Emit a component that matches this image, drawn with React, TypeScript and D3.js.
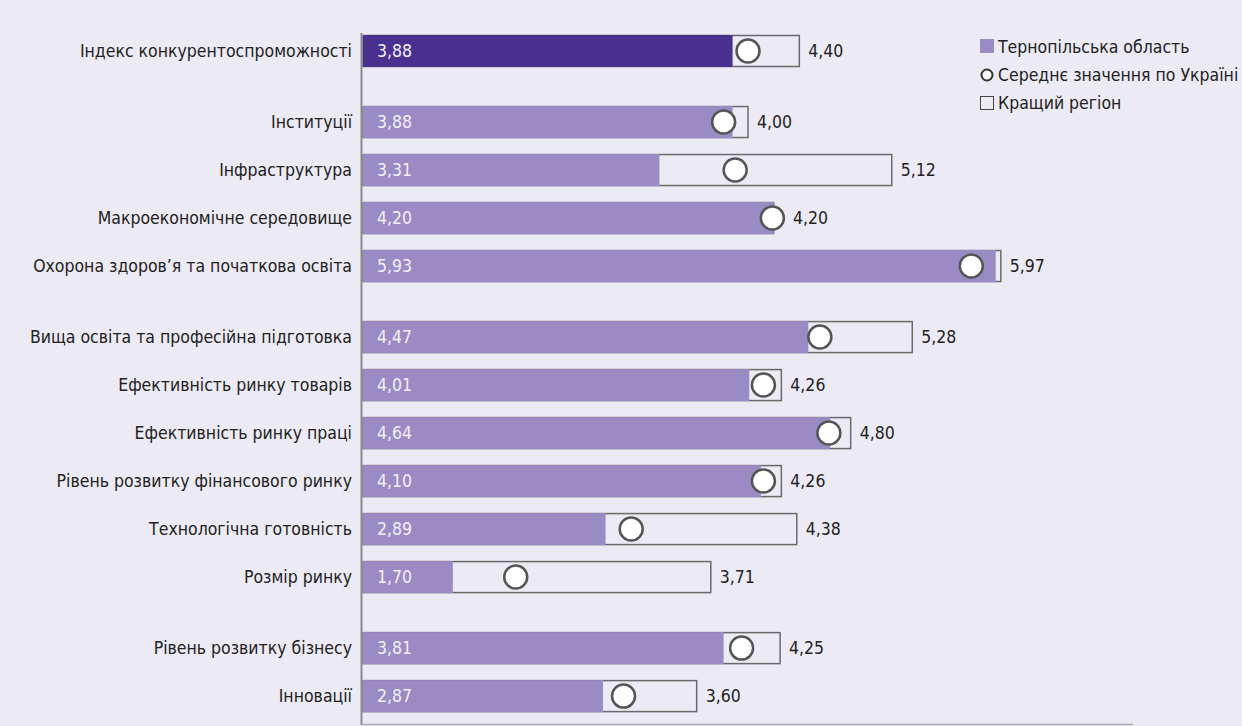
import React from "react";
import * as d3 from "d3";

const categories = [
  "Індекс конкурентоспроможності",
  "Інституції",
  "Інфраструктура",
  "Макроекономічне середовище",
  "Охорона здоров’я та початкова освіта",
  "Вища освіта та професійна підготовка",
  "Ефективність ринку товарів",
  "Ефективність ринку праці",
  "Рівень розвитку фінансового ринку",
  "Технологічна готовність",
  "Розмір ринку",
  "Рівень розвитку бізнесу",
  "Інновації",
];
const groups = [0, 1, 1, 1, 1, 2, 2, 2, 2, 2, 2, 3, 3];
const regionValues = [3.88, 3.88, 3.31, 4.2, 5.93, 4.47, 4.01, 4.64, 4.1, 2.89, 1.7, 3.81, 2.87];
const ukraineMean = [4.0, 3.81, 3.9, 4.19, 5.74, 4.56, 4.12, 4.63, 4.12, 3.09, 2.19, 3.95, 3.03];
const bestRegion = [4.4, 4.0, 5.12, 4.2, 5.97, 5.28, 4.26, 4.8, 4.26, 4.38, 3.71, 4.25, 3.6];
const legendLabels = ["Тернопільська область", "Середнє значення по Україні", "Кращий регіон"];

const W = 1242;
const H = 726;
const FONT = "'Liberation Sans Narrow', 'DejaVu Sans Condensed', 'Roboto', sans-serif";
const fmt = (v: number) => v.toFixed(2).replace(".", ",");

export default function App() {
  const x = d3.scaleLinear().domain([1, 7]).range([363, 1133]);
  const slot = categories.map((_, i) => i + 0.48 * groups[i]);
  const y = d3.scaleLinear().domain([0, 1]).range([51, 99]);
  const barH = 32;
  const r = 11.5;
  const axisX = 361.5;
  const fs = 17.5;

  return (
    <svg
      width={W}
      height={H}
      style={{ position: "absolute", left: 0, top: 0, background: "#ECEAF4" }}
      fontFamily={FONT}
    >
      <rect x={0} y={0} width={W} height={H} fill="#ECEAF4" />
      {categories.map((c, i) => {
        const cy = y(slot[i]);
        const top = cy - barH / 2;
        const xb = x(bestRegion[i]);
        const xm = x(ukraineMean[i]);
        const labelX = Math.max(xb, xm + r) + 9;
        return (
          <g key={c}>
            <text x={352} y={cy} dy="0.35em" textAnchor="end" fontSize={fs} fill="#222">
              {c}
            </text>
            <rect
              x={x(1)}
              y={top + 0.5}
              width={xb - x(1)}
              height={barH - 1}
              fill="none"
              stroke="#6a6a6a"
              strokeWidth={1.5}
            />
            <rect
              x={x(1)}
              y={top}
              width={x(regionValues[i]) - x(1)}
              height={barH}
              fill={i === 0 ? "#4A308F" : "#9B8BC4"}
            />
            <circle cx={xm} cy={cy} r={r} fill="#fff" stroke="#555" strokeWidth={2.5} />
            <text x={377} y={cy} dy="0.35em" fontSize={fs} fill="#F2F0F8">
              {fmt(regionValues[i])}
            </text>
            <text x={labelX} y={cy} dy="0.35em" fontSize={fs} fill="#222">
              {fmt(bestRegion[i])}
            </text>
          </g>
        );
      })}
      <line x1={axisX} x2={axisX} y1={33} y2={725} stroke="#8a8a8a" strokeWidth={2} />
      <line x1={axisX} x2={x(7)} y1={724.5} y2={724.5} stroke="#aaa" strokeWidth={1.5} />
      <g>
        <rect x={980} y={39} width={14} height={14} fill="#9B8BC4" />
        <circle cx={987} cy={75} r={5.5} fill="#fff" stroke="#333" strokeWidth={2} />
        <rect x={980.5} y={96.5} width={13} height={13} fill="none" stroke="#444" strokeWidth={1} />
        {legendLabels.map((t, i) => (
          <text key={t} x={998} y={47 + i * 28} dy="0.35em" fontSize={fs} fill="#222">
            {t}
          </text>
        ))}
      </g>
    </svg>
  );
}
